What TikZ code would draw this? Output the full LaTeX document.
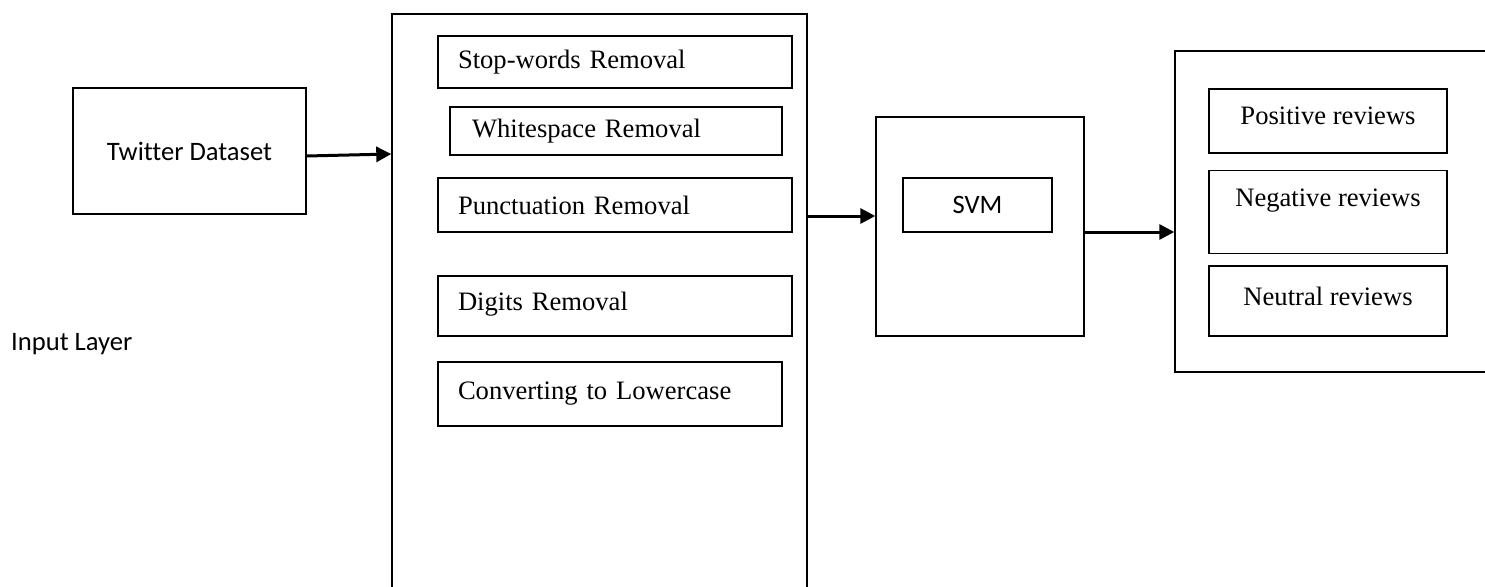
\documentclass[tikz,border=0pt]{standalone}
\usepackage{fontspec}
\setmainfont{Liberation Serif}
\newfontfamily\calibri[Ligatures=NoCommon]{Carlito}
\usetikzlibrary{arrows.meta,positioning}

\begin{document}
\begin{tikzpicture}[
    x=1pt, y=-1pt,
    font=\fontsize{26.6}{32}\selectfont,
    frame/.style={rectangle, draw=black, line width=1.4pt, inner sep=0pt},
    stepbox/.style={frame, align=left, inner xsep=20pt},
    revbox/.style={frame, minimum width=238pt, align=center},
    arrow/.style={-{Triangle[length=15pt,width=15pt]}, line width=3pt}
]
    \useasboundingbox (0,0) rectangle (1485,586);
    \clip (0,0) rectangle (1485,586);

    % Nodes
    \node[frame, minimum width=233pt, minimum height=126pt, font=\calibri\fontsize{26.6}{32}\selectfont] (twitter) at (189.5,151) {Twitter Dataset};
    \node[anchor=west, inner sep=0pt, font=\calibri\fontsize{26.6}{32}\selectfont] (inlayer) at (11,344) {Input Layer};

    \node[frame, minimum width=415pt, minimum height=586pt] (prep) at (599.5,307) {};
    \node[stepbox, text width=314pt, minimum height=52pt] (stop) at (615,62) {Stop-words Removal};
    \node[stepbox, inner xsep=22pt, text width=288pt, minimum height=48pt] (white) at (616,131) {Whitespace Removal};
    \node[stepbox, text width=314pt, minimum height=54pt] (punct) at (615,205) {Punctuation Removal};
    \node[stepbox, text width=314pt, minimum height=60pt, text depth=10pt] (digits) at (615,306) {Digits Removal};
    \node[stepbox, text width=304pt, minimum height=64pt] (lower) at (610,394) {Converting to Lowercase};

    \node[frame, minimum width=208pt, minimum height=219pt] (svmbox) at (980,226.5) {};
    \node[frame, minimum width=149pt, minimum height=54pt, font=\calibri\fontsize{26.6}{32}\selectfont] (svm) at (977.5,205) {SVM};

    \node[frame, minimum width=325pt, minimum height=321pt] (out) at (1337.5,211.5) {};
    \node[revbox, minimum height=64pt, text depth=10pt] (pos) at (1328,121) {Positive reviews};
    \node[revbox, minimum height=83pt, text depth=29pt, below=16pt of pos] (neg) {Negative reviews};
    \node[revbox, minimum height=70pt, text depth=10pt, below=11pt of neg] (neu) {Neutral reviews};

    % Arrows
    \draw[arrow] ([yshift=-5pt]twitter.east) -- ([yshift=-3pt]twitter.east -| prep.west);
    \draw[arrow] ([yshift=10.5pt]svmbox.west -| prep.east) -- ([yshift=10.5pt]svmbox.west);
    \draw[arrow] ([yshift=-5.5pt]svmbox.east) -- ([yshift=-5.5pt]svmbox.east -| out.west);
\end{tikzpicture}
\end{document}
